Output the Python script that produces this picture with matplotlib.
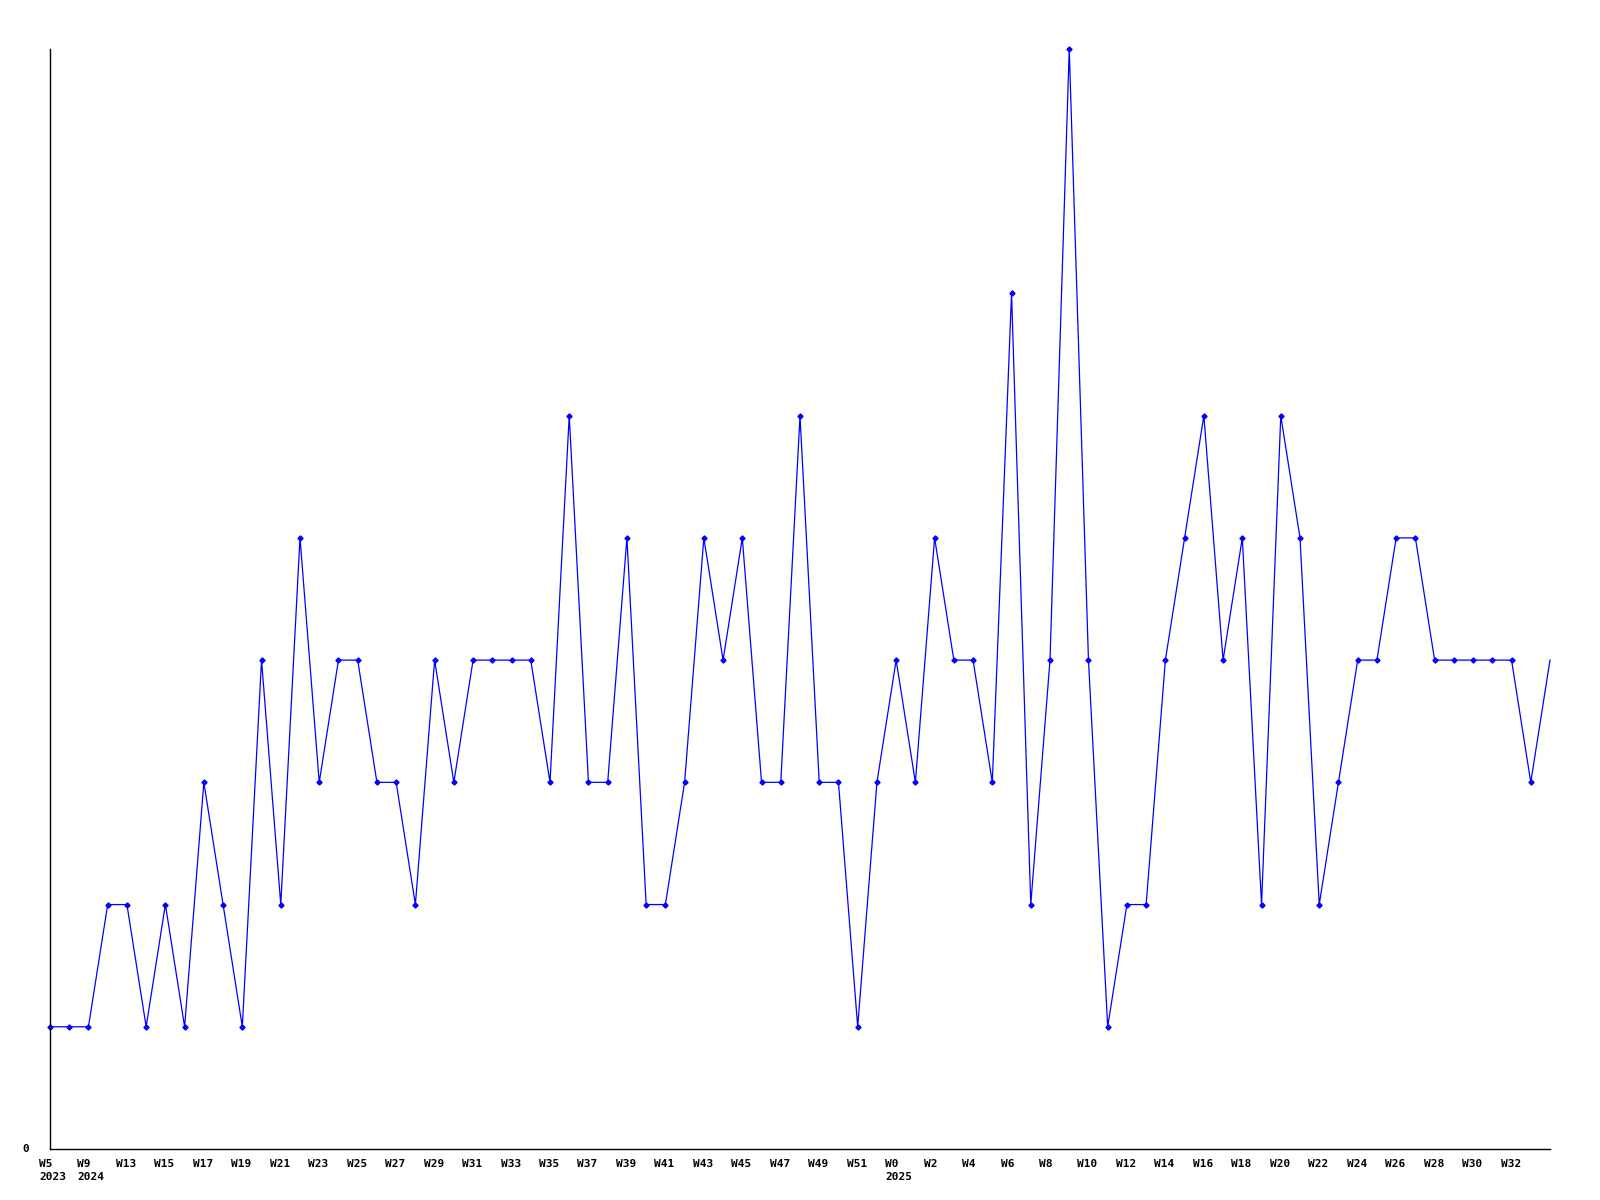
import matplotlib.pyplot as plt
from matplotlib.transforms import offset_copy

# weekly counts, one point per week from 2023-W5 to 2025-W34
counts = [1, 1, 1, 2, 2, 1, 2, 1, 3, 2,
          1, 4, 2, 5, 3, 4, 4, 3, 3, 2,
          4, 3, 4, 4, 4, 4, 3, 6, 3, 3,
          5, 2, 2, 3, 5, 4, 5, 3, 3, 6,
          3, 3, 1, 3, 4, 3, 5, 4, 4, 3,
          7, 2, 4, 9, 4, 1, 2, 2, 4, 5,
          6, 4, 5, 2, 6, 5, 2, 3, 4, 4,
          5, 5, 4, 4, 4, 4, 4, 3, 4]

week_labels = ['W5', 'W9', 'W13', 'W15', 'W17', 'W19', 'W21', 'W23', 'W25', 'W27',
               'W29', 'W31', 'W33', 'W35', 'W37', 'W39', 'W41', 'W43', 'W45', 'W47',
               'W49', 'W51', 'W0', 'W2', 'W4', 'W6', 'W8', 'W10', 'W12', 'W14',
               'W16', 'W18', 'W20', 'W22', 'W24', 'W26', 'W28', 'W30', 'W32']
year_labels = {0: '2023', 1: '2024', 22: '2025'}

x = list(range(len(counts)))

fig = plt.figure(figsize=(16, 12), dpi=100)
ax = fig.add_axes([50 / 1600, 51 / 1200, 1500 / 1600, 1100 / 1200])

ax.plot(x, counts, color='#0000ff', lw=0.9, marker='D', ms=2.6,
        markevery=list(range(len(counts) - 1)), clip_on=False)

ax.set_xlim(0, len(counts) - 1)
ax.set_ylim(0, max(counts))

for s in ['top', 'right']:
    ax.spines[s].set_visible(False)
for s in ['left', 'bottom']:
    ax.spines[s].set_linewidth(1.0)
    ax.spines[s].set_color('black')

ax.set_xticks([])
ax.set_yticks([])

font = dict(family='DejaVu Sans Mono', fontweight='bold', fontsize=8)

trans = offset_copy(ax.transData, fig=fig, x=-11, y=-10, units='dots')
trans2 = offset_copy(ax.transData, fig=fig, x=-11, y=-23, units='dots')
for i, lab in enumerate(week_labels):
    ax.text(2 * i, 0, lab, transform=trans, ha='left', va='top', clip_on=False, **font)
    if i in year_labels:
        ax.text(2 * i, 0, year_labels[i], transform=trans2, ha='left', va='top',
                clip_on=False, **font)

t0 = offset_copy(ax.transData, fig=fig, x=-28, y=0, units='dots')
ax.text(0, 0, '0', transform=t0, ha='left', va='center', clip_on=False, **font)

fig.savefig('out.png', dpi=100)
